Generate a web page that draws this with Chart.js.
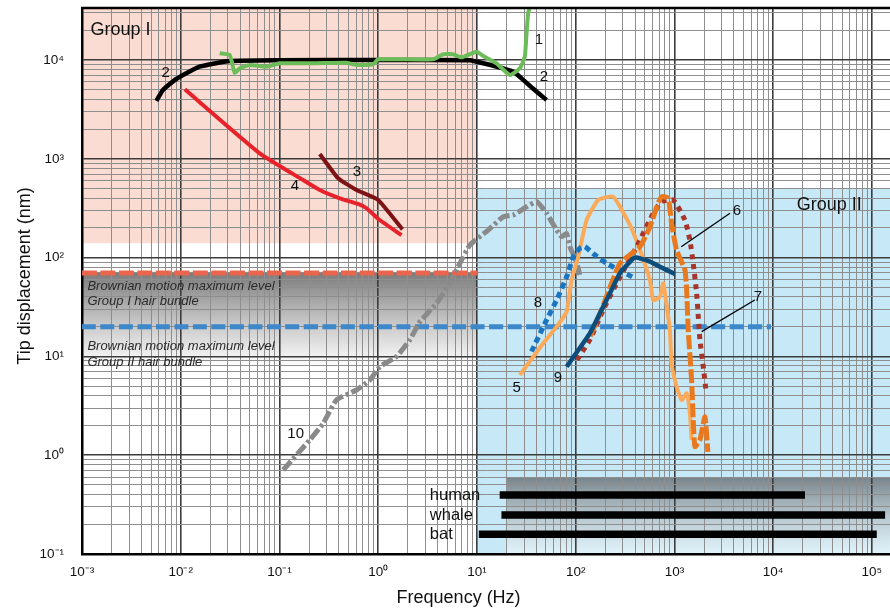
<!DOCTYPE html>
<html>
<head>
<meta charset="utf-8">
<script src="https://cdn.jsdelivr.net/npm/chart.js@4.4.1/dist/chart.umd.min.js"></script>
<style>
  html, body { margin: 0; padding: 0; background: #fff; }
  #wrap { width: 890px; height: 611px; }
</style>
</head>
<body>
<div id="wrap"><canvas id="chart" width="890" height="611"></canvas></div>
<script>
// ---- axis ranges ----
const freqRange = [0.001, 152500];
const dispRange = [0.1, 33600];

// ---- curves (frequency in Hz, tip displacement in nm) ----
const c1Freq = [0.0248, 0.0313, 0.0352, 0.0396, 0.05, 0.0738, 0.0933, 0.1002, 0.219, 0.477, 0.603, 0.888, 0.998, 3.6, 4.55, 5.74, 6.98, 9.9, 11.6, 15.8, 21.5, 27.2, 30.5, 31.8, 33.0, 34.0];
const c1Disp = [11700, 11240, 7435, 8240, 8900, 8550, 9110, 9260, 9260, 9390, 8900, 9050, 10160, 10160, 11420, 11420, 10640, 12130, 10980, 9260, 7050, 8240, 10800, 18620, 29700, 33000];

const c2Freq = [0.00567, 0.0066, 0.009, 0.0155, 0.0313, 0.1, 1, 8.5, 9.9, 16, 23.1, 27.1, 36.6, 50.7];
const c2Disp = [3850, 4970, 6420, 8550, 9770, 9950, 10000, 9950, 9600, 8550, 7620, 6780, 5170, 3935];

const c3Freq = [0.256, 0.393, 0.603, 0.998, 1.76];
const c3Disp = [1119, 635, 483, 383, 193];

const c4Freq = [0.011, 0.0631, 0.1734, 0.256, 0.408, 0.625, 0.761, 1.035, 1.72];
const c4Disp = [5050, 1137, 610, 483, 398, 349, 316, 240, 169];

const c5Freq = [27.2, 46.9, 64.1, 81, 90.9, 106, 129, 169, 240, 354, 448, 565, 610, 713, 771, 899, 935, 1052, 1183, 1328, 1435, 1493];
const c5Disp = [6.48, 13.6, 20, 28.4, 59.3, 102, 240, 383, 413, 214, 119, 59, 37, 40, 55, 18.5, 8.5, 4.95, 3.62, 4.23, 2.65, 1.43];

const c6Freq = [140, 176, 281, 448, 565, 685, 741, 865, 936, 1052, 1277, 1330, 1380, 1493, 1550, 1614, 1812, 2036, 2183];
const c6Disp = [16, 27, 87.5, 129, 205, 355, 414, 398, 222, 119, 74.9, 47, 18.5, 5.77, 2.27, 1.22, 1.43, 2.44, 1.08];

const c7Freq = [103, 139, 190, 281, 414, 610, 741, 973, 1277, 1435, 1550, 1679, 1812, 1959, 2084];
const c7Disp = [9.2, 14.7, 29.5, 64, 129, 281, 368, 383, 240, 150, 87.5, 43.5, 14.7, 7.87, 4.57];

const c8Freq = [35.7, 50.7, 64.1, 81, 94.4, 110, 124, 150, 205, 398];
const c8Disp = [11.2, 23.4, 37.2, 64, 102, 124, 129, 110, 87.5, 61.7];

const c9Freq = [81, 139, 176, 222, 281, 383, 410, 448, 565, 713, 1012];
const c9Disp = [7.87, 17.1, 27.3, 43.5, 69.4, 98.4, 100, 98.4, 91, 80.9, 68.2];

const c10Freq = [0.109, 0.203, 0.277, 0.378, 0.603, 0.822, 1.04, 1.53, 2.09, 2.64, 3.9, 5.31, 6.71, 8.47, 13, 18.4, 23.3, 31.8, 40.2, 50.7, 64.1, 72, 80.9, 87.4, 102, 110];
const c10Disp = [0.708, 1.43, 2.1, 3.62, 4.57, 5.77, 7.87, 9.93, 14.7, 22.4, 34.5, 55, 87.5, 134, 190, 259, 270, 327, 368, 281, 190, 163, 176, 129, 90, 67];

// ---- Brownian motion levels ----
const brownI = { freq: [0.001, 10], disp: 70 };
const brownII = { freq: [0.001, 9500], disp: 20 };

// ---- hearing ranges ----
const hearingNames = ["human", "whale", "bat"];
const hearingLow = [17, 17.7, 10.45];
const hearingHigh = [21000, 136000, 112000];
const hearingLevel = [0.395, 0.248, 0.158];

// ---- shaded regions [freqLo, freqHi, dispLo, dispHi] ----
const groupIRegion = [0.001, 10, 140, 40000];
const groupIIRegion = [10, 200000, 0.05, 500];
const brownBand = [0.001, 10, 7.8, 70];
const hearingBand = [20, 200000, 0.05, 0.6];

const SUP = { "0": "\u2070", "1": "\u00b9", "2": "\u00b2", "3": "\u00b3", "4": "\u2074", "5": "\u2075", "6": "\u2076", "7": "\u2077", "8": "\u2078", "9": "\u2079", "-": "\u207b" };
const FONT = "'Liberation Sans', Arial, Helvetica, sans-serif";

function pts(xs, ys) {
    return xs.map((x, i) => ({ x, y: ys[i] }));
}

function isDecade(v) {
    const l = Math.log10(v);
    return Math.abs(l - Math.round(l)) < 1e-6;
}

function powLabel(v) {
    if (!isDecade(v)) return "";
    const e = String(Math.round(Math.log10(v)));
    return "10" + e.split("").map((c) => SUP[c]).join("");
}

/** 1..9 x 10^n gridlines for a log axis */
function logTicks(scale) {
    const out = [];
    const lo = Math.floor(Math.log10(scale.min));
    const hi = Math.ceil(Math.log10(scale.max));
    for (let e = lo; e <= hi; e++) {
        for (let m = 1; m <= 9; m++) {
            const v = parseFloat((m * Math.pow(10, e)).toPrecision(6));
            if (v >= scale.min * 0.9999 && v <= scale.max * 1.0001) out.push({ value: v, major: m === 1 });
        }
    }
    scale.ticks = out;
}

function line(label, xs, ys, color, width, dash) {
    return {
        label,
        data: pts(xs, ys),
        borderColor: color,
        borderWidth: width,
        borderDash: dash || [],
        borderCapStyle: "butt",
        borderJoinStyle: "round",
        pointRadius: 0,
        fill: false,
        tension: 0.15,
    };
}

function bar(i) {
    return {
        label: hearingNames[i],
        data: [{ x: hearingLow[i], y: hearingLevel[i] }, { x: hearingHigh[i], y: hearingLevel[i] }],
        borderColor: "#000",
        borderWidth: 7.5,
        borderCapStyle: "butt",
        pointRadius: 0,
        fill: false,
    };
}

// ---- annotation text, anchored in data units ----
const curveLabels = [
    ["1", 42.4, 15940], ["2", 0.00705, 7386], ["2", 47.6, 6730], ["3", 0.607, 735],
    ["4", 0.143, 531], ["5", 25.3, 4.79], ["6", 4290, 296], ["7", 7000, 40],
    ["8", 41.4, 34.7], ["9", 66.1, 6.04], ["10", 0.146, 1.64],
];
const leaderLines = [
    [3650, 281, 1172, 129],
    [6520, 37.2, 1888, 17.8],
];
const leftTexts = [
    ["Group I", 0.001216, 20130, "18px", ""],
    ["Group II", 17300, 340, "18px", ""],
    ["Brownian motion maximum level", 0.001134, 51.6, "13px", "italic "],
    ["Group I hair bundle", 0.001134, 36.0, "13px", "italic "],
    ["Brownian motion maximum level", 0.001134, 12.7, "13px", "italic "],
    ["Group II hair bundle", 0.001134, 8.77, "13px", "italic "],
    ["human", 3.33, hearingLevel[0], "16.5px", ""],
    ["whale", 3.33, hearingLevel[1], "16.5px", ""],
    ["bat", 3.33, hearingLevel[2], "16.5px", ""],
];

function boxPx(x, y, r) {
    const x0 = x.getPixelForValue(r[0]);
    const x1 = x.getPixelForValue(r[1]);
    const y0 = y.getPixelForValue(r[3]);
    const y1 = y.getPixelForValue(r[2]);
    return { x0, y0, x1, y1 };
}

const bandsPlugin = {
    id: "bands",
    beforeDraw(chart) {
        const { ctx, chartArea: a, scales: { x, y } } = chart;
        ctx.save();
        ctx.beginPath();
        ctx.rect(a.left, a.top, a.width, a.height);
        ctx.clip();

        let b = boxPx(x, y, groupIRegion);
        ctx.fillStyle = "#fadcd2";
        ctx.fillRect(b.x0, b.y0, b.x1 - b.x0, b.y1 - b.y0);

        b = boxPx(x, y, groupIIRegion);
        ctx.fillStyle = "#c6e8f7";
        ctx.fillRect(b.x0, b.y0, b.x1 - b.x0, b.y1 - b.y0);

        // Brownian band: grey fading to white
        b = boxPx(x, y, brownBand);
        let g = ctx.createLinearGradient(0, b.y0, 0, b.y1);
        g.addColorStop(0, "#7c7c7c");
        g.addColorStop(0.45, "#bdbdbd");
        g.addColorStop(1, "#ffffff");
        ctx.fillStyle = g;
        ctx.fillRect(b.x0, b.y0, b.x1 - b.x0, b.y1 - b.y0);

        // hearing band overlay
        b = boxPx(x, y, hearingBand);
        g = ctx.createLinearGradient(0, b.y0, 0, a.bottom);
        g.addColorStop(0, "rgba(85,88,92,0.7)");
        g.addColorStop(1, "rgba(255,255,255,0.45)");
        ctx.fillStyle = g;
        ctx.fillRect(b.x0, b.y0, b.x1 - b.x0, a.bottom - b.y0);
        ctx.restore();
    },
    afterDraw(chart) {
        const { ctx, chartArea: a, scales: { x, y } } = chart;
        ctx.save();
        // top frame
        ctx.strokeStyle = "#000";
        ctx.lineWidth = 2.5;
        ctx.beginPath();
        ctx.moveTo(a.left - 1, a.top);
        ctx.lineTo(a.right, a.top);
        ctx.stroke();

        // leader lines
        ctx.lineWidth = 1.3;
        leaderLines.forEach(([x0, y0, x1, y1]) => {
            ctx.beginPath();
            ctx.moveTo(x.getPixelForValue(x0), y.getPixelForValue(y0));
            ctx.lineTo(x.getPixelForValue(x1), y.getPixelForValue(y1));
            ctx.stroke();
        });

        ctx.fillStyle = "#111";
        ctx.textBaseline = "middle";
        ctx.textAlign = "center";
        ctx.font = "15px " + FONT;
        curveLabels.forEach(([t, fx, fy]) => {
            ctx.fillText(t, x.getPixelForValue(fx), y.getPixelForValue(fy));
        });

        ctx.textAlign = "left";
        leftTexts.forEach(([t, fx, fy, size, style]) => {
            ctx.fillStyle = style ? "#2a2a2a" : "#111";
            ctx.font = style + size + " " + FONT;
            ctx.fillText(t, x.getPixelForValue(fx), y.getPixelForValue(fy));
        });

        // axis titles
        ctx.fillStyle = "#111";
        ctx.font = "18px " + FONT;
        ctx.textAlign = "center";
        ctx.fillText("Frequency (Hz)", 458.6, 598);
        ctx.translate(25, 276);
        ctx.rotate(-Math.PI / 2);
        ctx.fillText("Tip displacement (nm)", 0, 0);
        ctx.restore();
    },
};

const gridOpts = {
    drawTicks: false,
    color: (c) => (c.tick && isDecade(c.tick.value) ? "#3c3c3c" : "#8e8e8e"),
    lineWidth: (c) => (c.tick && isDecade(c.tick.value) ? 1.6 : 1),
};

new Chart(document.getElementById("chart"), {
    type: "line",
    data: {
        datasets: [
            line("9", c9Freq, c9Disp, "#0e4c7a", 4.5),
            line("6", c6Freq, c6Disp, "#e8791e", 5, [14, 3]),
            line("7", c7Freq, c7Disp, "#a8352a", 5, [5, 5]),
            line("8", c8Freq, c8Disp, "#1a74c0", 5, [6, 4]),
            line("5", c5Freq, c5Disp, "#fbaa5a", 4),
            line("10", c10Freq, c10Disp, "#8a8a8a", 5, [12, 3, 3, 3]),
            line("1", c1Freq, c1Disp, "#6cbd5a", 4),
            line("2", c2Freq, c2Disp, "#000000", 4.5),
            line("3", c3Freq, c3Disp, "#7d1315", 4),
            line("4", c4Freq, c4Disp, "#e8222a", 4),
            bar(0), bar(1), bar(2),
            line("Brownian I", brownI.freq, [brownI.disp, brownI.disp], "#e9654c", 5, [15, 3.5]),
            line("Brownian II", brownII.freq, [brownII.disp, brownII.disp], "#3d87cb", 5, [14, 4.5]),
        ],
    },
    options: {
        responsive: false,
        animation: false,
        layout: { padding: { top: 8, left: 0, right: 0, bottom: 0 } },
        plugins: { legend: { display: false }, tooltip: { enabled: false } },
        scales: {
            x: {
                type: "logarithmic",
                min: freqRange[0],
                max: freqRange[1],
                afterBuildTicks: logTicks,
                afterFit: (s) => { s.height = 57; s.paddingLeft = 0; s.paddingRight = 0; },
                grid: gridOpts,
                border: { display: true, color: "#000", width: 2.5 },
                ticks: {
                    autoSkip: false,
                    maxRotation: 0,
                    padding: 10,
                    color: "#111",
                    font: { family: FONT, size: 13.5 },
                    callback: (v) => powLabel(v),
                },
            },
            y: {
                type: "logarithmic",
                min: dispRange[0],
                max: dispRange[1],
                afterBuildTicks: logTicks,
                // keep the plot flush with the top; labels may overhang
                afterFit: (s) => { s.width = 82; s.paddingTop = 0; s.paddingBottom = 0; },
                grid: gridOpts,
                border: { display: true, color: "#000", width: 2.5 },
                ticks: {
                    autoSkip: false,
                    padding: 18,
                    color: "#111",
                    font: { family: FONT, size: 13.5 },
                    callback: (v) => powLabel(v),
                },
            },
        },
    },
    plugins: [bandsPlugin],
});
</script>
</body>
</html>
